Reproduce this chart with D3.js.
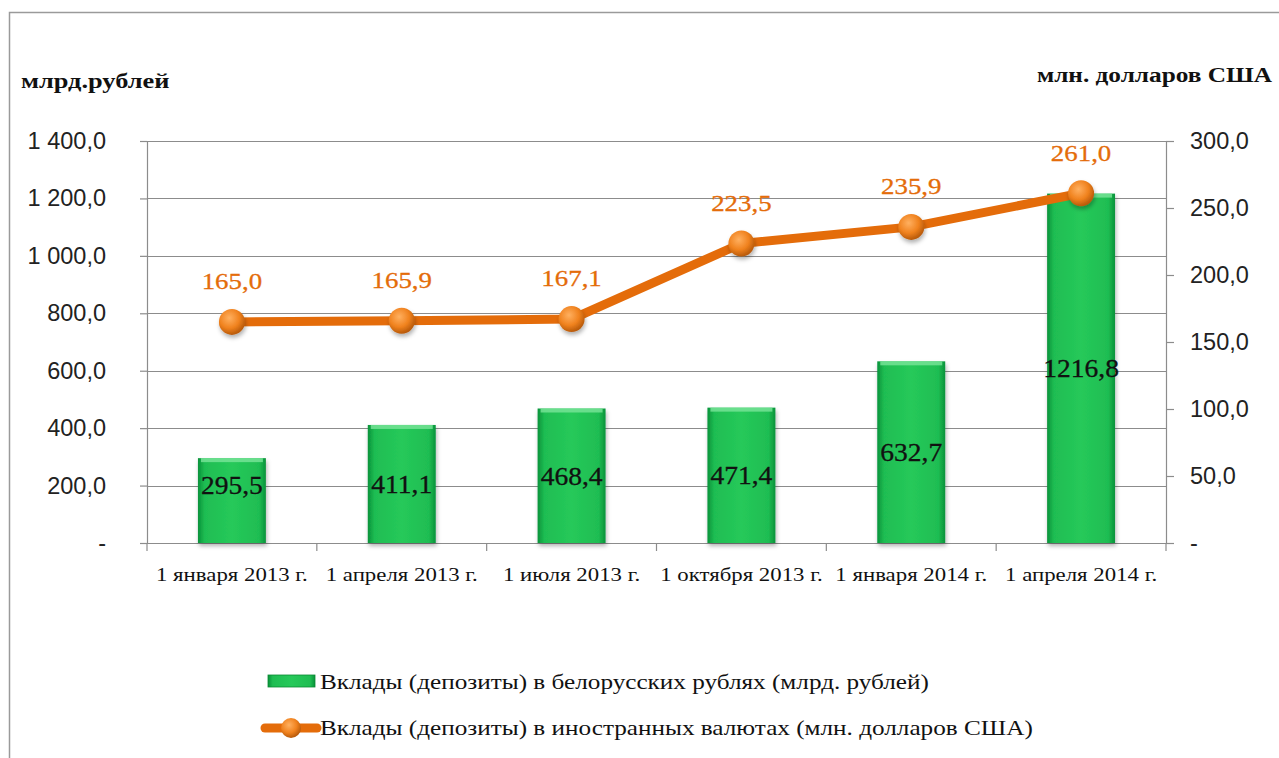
<!DOCTYPE html>
<html lang="ru">
<head>
<meta charset="UTF-8">
<title>Вклады</title>
<script src="https://d3js.org/d3.v7.min.js"></script>
<style>
    body { margin: 0; background: #fff; }
    svg { display: block; }
</style>
</head>
<body>
<div id="chart"></div>
<script>
    // данные
    const dates = ["1 января 2013 г.", "1 апреля 2013 г.", "1 июля 2013 г.", "1 октября 2013 г.", "1 января 2014 г.", "1 апреля 2014 г."];
    const rubDeposits = [295.5, 411.1, 468.4, 471.4, 632.7, 1216.8];
    const usdDeposits = [165.0, 165.9, 167.1, 223.5, 235.9, 261.0];
    const leftTicks = [0, 200, 400, 600, 800, 1000, 1200, 1400];
    const rightTicks = [0, 50, 100, 150, 200, 250, 300];
    const legendLabels = ["Вклады (депозиты) в белорусских рублях (млрд. рублей)",
                          "Вклады (депозиты) в иностранных валютах (млн. долларов США)"];

    const width = 1279, height = 758;
    const margin = { top: 141, right: 113, bottom: 215, left: 147 };
    const orange = "#e46c0a";
    const SERIF = '"Liberation Serif", "Times New Roman", serif';
    const SANS = '"Liberation Sans", Arial, sans-serif';

    const fmt = v => v === 0 ? "-" : d3.format(",.1f")(v).replace(",", " ").replace(".", ",");
    const fmt1 = v => d3.format(".1f")(v).replace(".", ",");

    // растянуть текст по горизонтали (как в исходной картинке)
    function stretch(sel, sx) {
        sel.each(function () {
            const t = d3.select(this);
            const x0 = +t.attr("x") || 0, y0 = +t.attr("y") || 0;
            t.attr("x", 0).attr("y", 0)
             .attr("transform", `translate(${x0},${y0}) scale(${sx},1)`);
        });
    }

    const svg = d3.select("#chart").append("svg")
        .attr("width", width).attr("height", height);

    const defs = svg.append("defs");
    const gb = defs.append("linearGradient").attr("id", "barGrad").attr("x1", 0).attr("x2", 1);
    gb.append("stop").attr("offset", "0%").attr("stop-color", "#08923a");
    gb.append("stop").attr("offset", "10%").attr("stop-color", "#1fbd52");
    gb.append("stop").attr("offset", "50%").attr("stop-color", "#26c95a");
    gb.append("stop").attr("offset", "90%").attr("stop-color", "#1fbd52");
    gb.append("stop").attr("offset", "100%").attr("stop-color", "#08923a");
    const gm = defs.append("radialGradient").attr("id", "markGrad")
        .attr("cx", "40%").attr("cy", "35%").attr("r", "65%");
    gm.append("stop").attr("offset", "0%").attr("stop-color", "#ffb060");
    gm.append("stop").attr("offset", "60%").attr("stop-color", "#f0821e");
    gm.append("stop").attr("offset", "100%").attr("stop-color", "#b85a0a");
    const sh = defs.append("filter").attr("id", "shadow").attr("x", "-50%").attr("y", "-50%")
        .attr("width", "200%").attr("height", "200%");
    sh.append("feDropShadow").attr("dx", 1).attr("dy", 3).attr("stdDeviation", 2)
        .attr("flood-color", "#000").attr("flood-opacity", 0.3);

    // рамка
    svg.append("rect").attr("x", 9.5).attr("y", 12.5).attr("width", 1300).attr("height", 800)
        .attr("fill", "none").attr("stroke", "#9a9a9a").attr("stroke-width", 1.5);

    const iw = width - margin.left - margin.right;
    const ih = height - margin.top - margin.bottom;

    const x = d3.scaleBand().domain(dates).range([0, iw]).paddingInner(0.6).paddingOuter(0.3);
    const xb = d3.scaleBand().domain(dates).range([0, iw]);
    const yL = d3.scaleLinear().domain([0, 1400]).range([ih, 0]);
    const yR = d3.scaleLinear().domain([0, 300]).range([ih, 0]);

    const g = svg.append("g").attr("transform", `translate(${margin.left},${margin.top})`);

    // сетка
    g.append("g").selectAll("line").data(leftTicks).join("line")
        .attr("x1", 0).attr("x2", iw)
        .attr("y1", d => Math.round(yL(d)) + 0.5).attr("y2", d => Math.round(yL(d)) + 0.5)
        .attr("stroke", "#8c8c8c").attr("stroke-width", 1.2);

    // оси
    const axL = g.append("g").call(d3.axisLeft(yL).tickValues(leftTicks).tickSize(7).tickPadding(34).tickFormat(fmt));
    const axR = g.append("g").attr("transform", `translate(${iw},0)`)
        .call(d3.axisRight(yR).tickValues(rightTicks).tickSize(8).tickPadding(16).tickFormat(fmt));
    const axB = g.append("g").attr("transform", `translate(0,${ih})`)
        .call(d3.axisBottom(xb).tickSize(0).tickPadding(24));
    [axL, axR, axB].forEach(a => {
        a.attr("font-family", null).attr("font-size", null);
        a.select(".domain").attr("stroke", "#8c8c8c").attr("stroke-width", 1.2);
        a.selectAll(".tick line").attr("stroke", "#8c8c8c").attr("stroke-width", 1.2);
    });
    axL.selectAll("text").style("font-family", SANS).style("font-size", "23.5px").attr("fill", "#222");
    axR.selectAll("text").style("font-family", SANS).style("font-size", "23.5px").attr("fill", "#222");
    axB.selectAll("text").style("font-family", SERIF).style("font-size", "19.5px").attr("fill", "#111")
        .attr("transform", "scale(1.17,1)");
    axB.select(".domain").attr("d", `M0,0.5H${iw}`);
    // деления категорий
    axB.append("g").selectAll("line").data(d3.range(dates.length + 1)).join("line")
        .attr("x1", i => i * xb.step()).attr("x2", i => i * xb.step())
        .attr("y1", 0).attr("y2", 8)
        .attr("stroke", "#8c8c8c").attr("stroke-width", 1.2);

    // столбцы
    g.append("g").selectAll("rect").data(rubDeposits).join("rect")
        .attr("x", (d, i) => x(dates[i]))
        .attr("y", d => yL(d))
        .attr("width", x.bandwidth())
        .attr("height", d => ih - yL(d))
        .attr("fill", "url(#barGrad)")
        .attr("filter", "url(#shadow)");
    g.append("g").selectAll("rect").data(rubDeposits).join("rect")
        .attr("x", (d, i) => x(dates[i]) + 3)
        .attr("y", d => yL(d))
        .attr("width", x.bandwidth() - 6)
        .attr("height", 4)
        .attr("fill", "#7be59a").attr("opacity", 0.8);

    g.append("g").selectAll("text").data(rubDeposits).join("text")
        .attr("x", (d, i) => x(dates[i]) + x.bandwidth() / 2)
        .attr("y", d => Math.min((yL(d) + ih) / 2, ih - 58))
        .attr("dy", "0.35em")
        .attr("text-anchor", "middle")
        .style("font-family", SERIF).style("font-size", "25px")
        .attr("fill", "#111").attr("stroke", "#111").attr("stroke-width", 0.3)
        .text(fmt1)
        .call(stretch, 1.1);

    // линия
    const cx = (d, i) => x(dates[i]) + x.bandwidth() / 2;
    const line = d3.line().x(cx).y(d => yR(d));
    g.append("path").datum(usdDeposits)
        .attr("d", line).attr("fill", "none")
        .attr("stroke", orange).attr("stroke-width", 9)
        .attr("stroke-linejoin", "round");
    g.append("g").selectAll("circle").data(usdDeposits).join("circle")
        .attr("cx", cx).attr("cy", d => yR(d)).attr("r", 13)
        .attr("fill", "url(#markGrad)").attr("filter", "url(#shadow)");
    g.append("g").selectAll("text").data(usdDeposits).join("text")
        .attr("x", cx).attr("y", d => yR(d) - 41)
        .attr("dy", "0.35em")
        .attr("text-anchor", "middle")
        .style("font-family", SERIF).style("font-size", "24px")
        .attr("fill", orange).attr("stroke", orange).attr("stroke-width", 0.3)
        .text(fmt1)
        .call(stretch, 1.12);

    // заголовки осей
    svg.append("text").attr("x", 21).attr("y", 88)
        .style("font-family", SERIF).style("font-size", "22px").style("font-weight", "bold")
        .attr("fill", "#111").text("млрд.рублей")
        .call(stretch, 1.2);
    svg.append("text").attr("x", 1272).attr("y", 82).attr("text-anchor", "end")
        .style("font-family", SERIF).style("font-size", "22px").style("font-weight", "bold")
        .attr("fill", "#111").text("млн. долларов США")
        .call(stretch, 1.15);

    // легенда
    const lg = svg.append("g");
    lg.append("rect").attr("x", 268).attr("y", 675).attr("width", 47).attr("height", 12)
        .attr("fill", "url(#barGrad)").attr("stroke", "#0b8a34").attr("stroke-width", 0.8);
    lg.append("line").attr("x1", 265).attr("x2", 317).attr("y1", 728).attr("y2", 728)
        .attr("stroke", orange).attr("stroke-width", 9).attr("stroke-linecap", "round");
    lg.append("circle").attr("cx", 291).attr("cy", 728).attr("r", 10).attr("fill", "url(#markGrad)");
    lg.selectAll("text").data(legendLabels).join("text")
        .attr("x", 320).attr("y", (d, i) => 682 + i * 46)
        .attr("dy", "0.35em")
        .style("font-family", SERIF).style("font-size", "21px").attr("fill", "#111")
        .text(d => d)
        .call(stretch, 1.2);
</script>
</body>
</html>
